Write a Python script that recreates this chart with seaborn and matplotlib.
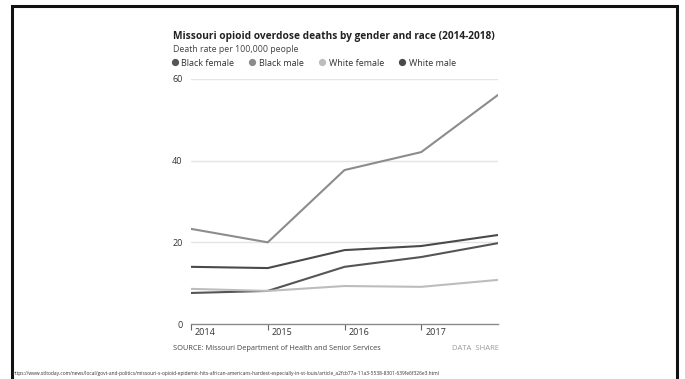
import matplotlib
matplotlib.use("Agg")
import matplotlib.pyplot as plt
from matplotlib.lines import Line2D
from matplotlib.patches import Rectangle
import matplotlib.transforms as mtransforms
import seaborn as sns
import pandas as pd

years = [2014, 2015, 2016, 2017, 2018]
black_female = [7.6, 8.1, 14.0, 16.4, 19.8]
black_male = [23.3, 20.0, 37.7, 42.1, 56.1]
white_female = [8.6, 8.1, 9.3, 9.1, 10.8]
white_male = [14.0, 13.7, 18.1, 19.1, 21.8]
series_names = ["Black female", "Black male", "White female", "White male"]
series_colors = ["#555555", "#8c8c8c", "#bdbdbd", "#4a4a4a"]
x_tick_labels = ["2014", "2015", "2016", "2017"]
y_ticks = [0, 20, 40, 60]

rows = []
for name, vals in zip(series_names, [black_female, black_male, white_female, white_male]):
    for y, v in zip(years, vals):
        rows.append({"year": y, "rate": v, "group": name})
df = pd.DataFrame(rows)

sns.set_theme(style="white")
plt.rcParams["font.family"] = ["Open Sans", "DejaVu Sans"]

fig = plt.figure(figsize=(6.85, 3.79), dpi=100)
ax = fig.add_axes([191 / 685, 1 - 324 / 379, 307 / 685, 245 / 379])

palette = dict(zip(series_names, series_colors))
sns.lineplot(data=df, x="year", y="rate", hue="group", palette=palette,
             linewidth=1.5, ax=ax, legend=False)

ax.set_xlim(2014, 2018)
ax.set_ylim(0, 60)
ax.set_xlabel("")
ax.set_ylabel("")
for yv in y_ticks[1:]:
    ax.axhline(yv, color="#e4e4e4", linewidth=1, zorder=0)
for s in ["top", "right", "left"]:
    ax.spines[s].set_visible(False)
ax.spines["bottom"].set_color("#8a8a8a")
ax.spines["bottom"].set_linewidth(1.0)
ax.set_yticks(y_ticks)
ax.set_yticklabels([str(v) for v in y_ticks], fontsize=6.5, color="#333333")
ax.tick_params(axis="y", length=0, pad=6)
ax.set_xticks(years[:4])
ax.set_xticklabels(x_tick_labels, fontsize=6.5, color="#333333", ha="left")
ax.tick_params(axis="x", bottom=True, direction="out", length=4, width=0.8,
               color="#666666", pad=-1)
offset = mtransforms.ScaledTranslation(4 / 100, 0, fig.dpi_scale_trans)
for lbl in ax.get_xticklabels():
    lbl.set_transform(lbl.get_transform() + offset)

fig.text(173 / 685, 1 - 37 / 379, "Missouri opioid overdose deaths by gender and race (2014-2018)",
         fontsize=7.25, fontweight="bold", color="#222222", va="center", ha="left")
fig.text(173 / 685, 1 - 49.5 / 379, "Death rate per 100,000 people",
         fontsize=6.3, color="#444444", va="center", ha="left")

handles = [Line2D([0], [0], marker="o", linestyle="", markersize=4.2,
                  markerfacecolor=c, markeredgecolor=c) for c in series_colors]
fig.legend(handles, series_names, loc="center left", bbox_to_anchor=(170 / 685, 1 - 63 / 379),
           ncol=4, frameon=False, fontsize=6.5, handletextpad=0.25, columnspacing=1.5,
           handlelength=1.0, borderaxespad=0, borderpad=0, labelcolor="#333333")

fig.text(173 / 685, 1 - 349 / 379, "SOURCE: Missouri Department of Health and Senior Services",
         fontsize=5.3, color="#444444", va="center", ha="left")
fig.text(452 / 685, 1 - 349 / 379, "DATA  SHARE", fontsize=5.5, color="#9a9a9a",
         va="center", ha="left")
fig.text(13 / 685, 1 - 374 / 379,
         "https://www.stltoday.com/news/local/govt-and-politics/missouri-s-opioid-epidemic-hits-african-americans-hardest-especially-in-st-louis/article_a2fcb77a-11a3-5538-8301-639fe6f326e3.html",
         fontsize=3.5, color="#333333", va="center", ha="left")

fig.patches.append(Rectangle((12 / 685, -0.05), 665 / 685, 1.05 - 6 / 379,
                             transform=fig.transFigure, fill=False,
                             edgecolor="#111111", linewidth=2.2))

fig.savefig("out.png", dpi=100)
